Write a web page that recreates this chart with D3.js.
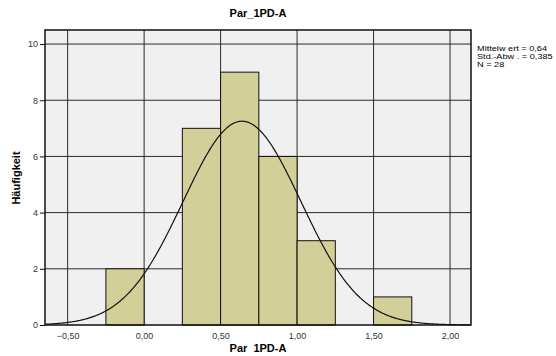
<!DOCTYPE html>
<html>
<head>
<meta charset="utf-8">
<script src="https://cdn.jsdelivr.net/npm/d3@7"></script>
<style>
  body { margin: 0; background: #fff; }
  text { font-family: "Liberation Sans", Arial, sans-serif; }
</style>
</head>
<body>
<svg id="chart" width="556" height="356"></svg>
<script>
// Histogram bins (lower edge, upper edge) and their counts
const binStarts = [-0.25, 0.25, 0.50, 0.75, 1.00, 1.50];
const binEnds   = [ 0.00, 0.50, 0.75, 1.00, 1.25, 1.75];
const counts    = [2, 7, 9, 6, 3, 1];

// Summary statistics used for the fitted normal curve
const mean = 0.64;
const sd = 0.385;
const n = 28;
const binWidth = 0.25;

const xTicks = [-0.5, 0, 0.5, 1.0, 1.5, 2.0];
const yTicks = [0, 2, 4, 6, 8, 10];
const statLines = ["Mittelw ert = 0,64", "Std.-Abw . = 0,385", "N = 28"];

const svg = d3.select("#chart");
const plotL = 45, plotR = 471, plotT = 30, plotB = 325;

const x = d3.scaleLinear().domain([-0.648, 2.137]).range([plotL, plotR]);
const y = d3.scaleLinear().domain([0, 10.5]).range([plotB, plotT]);

const fmt = v => d3.format(".2f")(v).replace(".", ",").replace("-0,00", "0,00");

// plot background
svg.append("rect")
  .attr("x", plotL).attr("y", plotT)
  .attr("width", plotR - plotL).attr("height", plotB - plotT)
  .attr("fill", "#f0f0f0");

// grid lines
svg.append("g").selectAll("line").data(xTicks).join("line")
  .attr("x1", d => x(d)).attr("x2", d => x(d))
  .attr("y1", plotT).attr("y2", plotB)
  .attr("stroke", "#2a2a2a").attr("stroke-width", 1);
svg.append("g").selectAll("line").data(yTicks.filter(d => d > 0)).join("line")
  .attr("x1", plotL).attr("x2", plotR)
  .attr("y1", d => y(d)).attr("y2", d => y(d))
  .attr("stroke", "#2a2a2a").attr("stroke-width", 1);

// bars
svg.append("g").selectAll("rect").data(counts).join("rect")
  .attr("x", (d, i) => x(binStarts[i]))
  .attr("width", (d, i) => x(binEnds[i]) - x(binStarts[i]))
  .attr("y", d => y(d))
  .attr("height", d => y(0) - y(d))
  .attr("fill", "#d3cf99")
  .attr("stroke", "#111")
  .attr("stroke-width", 1);

// normal curve scaled to counts
const pdf = v => n * binWidth * Math.exp(-0.5 * ((v - mean) / sd) ** 2) / (sd * Math.sqrt(2 * Math.PI));
const curveXs = d3.range(-0.648, 2.137, 0.005);
svg.append("path")
  .datum(curveXs)
  .attr("d", d3.line().x(d => x(d)).y(d => y(pdf(d))))
  .attr("fill", "none")
  .attr("stroke", "#111")
  .attr("stroke-width", 1.2);

// frame
svg.append("rect")
  .attr("x", plotL).attr("y", plotT)
  .attr("width", plotR - plotL).attr("height", plotB - plotT)
  .attr("fill", "none").attr("stroke", "#111").attr("stroke-width", 1.5);

// y axis
const yAxis = svg.append("g")
  .attr("transform", `translate(${plotL},0)`)
  .call(d3.axisLeft(y).tickValues(yTicks).tickSize(5).tickFormat(d3.format("d")));
yAxis.select(".domain").remove();
yAxis.selectAll("line").attr("stroke", "#111");
yAxis.selectAll("text").attr("font-size", 9).attr("fill", "#333")
  .attr("font-family", "Liberation Sans, Arial, sans-serif").attr("dx", 1);

// x axis
const xAxis = svg.append("g")
  .attr("transform", `translate(0,${plotB})`)
  .call(d3.axisBottom(x).tickValues(xTicks).tickSize(0).tickFormat(fmt));
xAxis.select(".domain").remove();
xAxis.selectAll("text").attr("font-size", 9).attr("fill", "#333")
  .attr("font-family", "Liberation Sans, Arial, sans-serif").attr("dy", "1.2em");

// title and axis labels
svg.append("text").attr("x", 258).attr("y", 17).attr("text-anchor", "middle")
  .attr("font-size", 11).attr("font-weight", "bold").text("Par_1PD-A");
svg.append("text").attr("x", 258).attr("y", 352).attr("text-anchor", "middle")
  .attr("font-size", 11).attr("font-weight", "bold").attr("xml:space", "preserve")
  .text("Par  1PD-A");
svg.append("text").attr("transform", "translate(20,178) rotate(-90)")
  .attr("text-anchor", "middle").attr("font-size", 11).attr("font-weight", "bold")
  .text("Häufigkeit");

// statistics box (slightly widened text)
svg.append("g").attr("transform", "translate(477,0) scale(1.24,1)")
  .selectAll("text").data(statLines).join("text")
  .attr("x", 0).attr("y", (d, i) => 51 + i * 8)
  .attr("font-size", 7.4).attr("fill", "#000")
  .attr("xml:space", "preserve")
  .text(d => d);
</script>
</body>
</html>
